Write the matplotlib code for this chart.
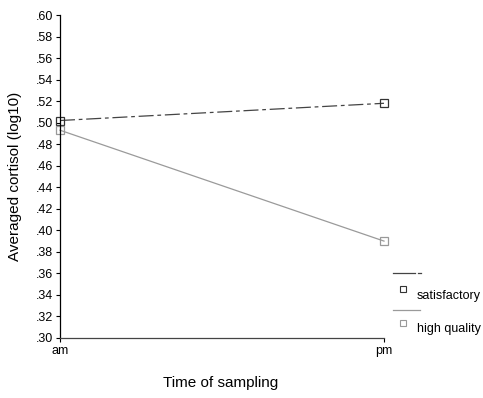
import matplotlib.pyplot as plt
from matplotlib.lines import Line2D

plt.rcParams['font.family'] = ['Liberation Sans', 'DejaVu Sans']

times = ['am', 'pm']
satisfactory = [0.502, 0.518]
high_quality = [0.493, 0.390]
yticks = [0.30, 0.32, 0.34, 0.36, 0.38, 0.40, 0.42, 0.44, 0.46, 0.48,
          0.50, 0.52, 0.54, 0.56, 0.58, 0.60]

fig = plt.figure(figsize=(4.83, 3.98), dpi=100)
ax = fig.add_axes([60 / 483, 60 / 398, 324 / 483, 323 / 398])

x = list(range(len(times)))
ax.plot(x, satisfactory, color='#444444', lw=0.9, dashes=(12, 3, 3, 3),
        marker='s', ms=6, mfc='none', mec='#333333', mew=0.9, clip_on=False)
ax.plot(x, high_quality, color='#9a9a9a', lw=0.9,
        marker='s', ms=6, mfc='none', mec='#999999', mew=0.9, clip_on=False)

ax.set_xlim(0, 1)
ax.set_ylim(0.30, 0.60)
ax.set_xticks(x)
ax.set_xticklabels(times)
ax.set_yticks(yticks)
ax.set_yticklabels([('%.2f' % v)[1:] for v in yticks])
ax.tick_params(labelsize=9, length=3, width=0.8, pad=2)
ax.spines['top'].set_visible(False)
ax.spines['right'].set_visible(False)
ax.spines['left'].set_linewidth(0.9)
ax.spines['bottom'].set_linewidth(0.9)
ax.spines['bottom'].set_color('#444444')

# axis titles
fig.text(221 / 483, 1 - 383 / 398, 'Time of sampling', fontsize=11,
         ha='center', va='center')
fig.text(15 / 483, 1 - 176 / 398, 'Averaged cortisol (log10)', fontsize=11,
         ha='center', va='center', rotation=90)

# legend drawn by hand (odd layout: line row, then marker + label row)
H = 398.0
def fx(px):
    return px / 483.0
def fy(py):
    return 1 - py / H

fig.add_artist(Line2D([fx(393), fx(415)], [fy(273), fy(273)], color='#444444', lw=0.9))
fig.add_artist(Line2D([fx(418), fx(421)], [fy(273), fy(273)], color='#444444', lw=0.9))
fig.add_artist(Line2D([fx(403)], [fy(289)], marker='s', ms=4.5, mfc='none',
                      mec='#333333', mew=0.8, ls='none'))
fig.text(fx(417), fy(296), 'satisfactory', fontsize=9, va='center', ha='left')

fig.add_artist(Line2D([fx(393), fx(420)], [fy(310), fy(310)], color='#9a9a9a', lw=0.9))
fig.add_artist(Line2D([fx(403)], [fy(323)], marker='s', ms=4.5, mfc='none',
                      mec='#999999', mew=0.8, ls='none'))
fig.text(fx(417), fy(329), 'high quality', fontsize=9, va='center', ha='left')

fig.savefig('out.png', dpi=100)
